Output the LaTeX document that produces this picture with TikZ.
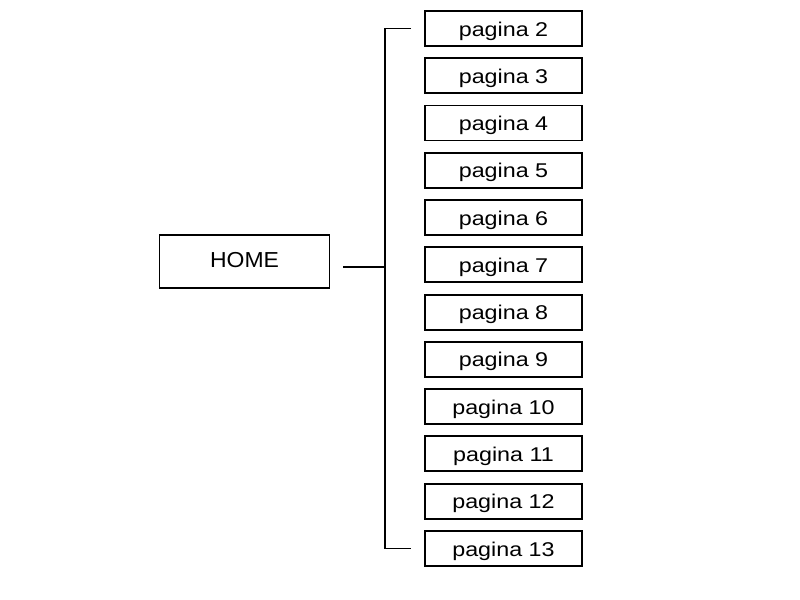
\documentclass[tikz,border=0pt]{standalone}
\usepackage{fontspec}
\setmainfont{Liberation Sans}
\newfontfamily\pagefont{Liberation Sans}[FakeStretch=1.17]
\newfontfamily\homefont{Liberation Sans}[FakeStretch=1.06]
\begin{document}
\begin{tikzpicture}[x=0.03cm, y=-0.03cm, line width=1.6pt,
    pagebox/.style={draw, minimum width=157*0.03cm, minimum height=35*0.03cm, inner sep=0pt,
        text height=15.2*0.03cm, text depth=0pt, font=\pagefont\fontsize{17}{20}\selectfont},
    homebox/.style={draw, minimum width=170*0.03cm, minimum height=53*0.03cm, inner sep=0pt,
        text height=13*0.03cm, text depth=0pt, font=\homefont\fontsize{18.5}{22}\selectfont}]
    \useasboundingbox (0,0) rectangle (800,600);

    % Home
    \node[homebox] (home) at (244.5,261.5) {HOME};

    % Pages
    \foreach \n [evaluate=\n as \y using {28.5+(\n-2)*47.27}] in {2,...,13} {
        \node[pagebox] (p\n) at (503.5,\y) {pagina \n};
    }

    % Bracket
    \coordinate (start) at (343,267);
    \coordinate (hub) at (385,267);
    \draw (start) -- (hub);
    \draw ([xshift=-13*0.03cm]p2.west) -| (hub) |- ([xshift=-13*0.03cm]p13.west);
\end{tikzpicture}
\end{document}
